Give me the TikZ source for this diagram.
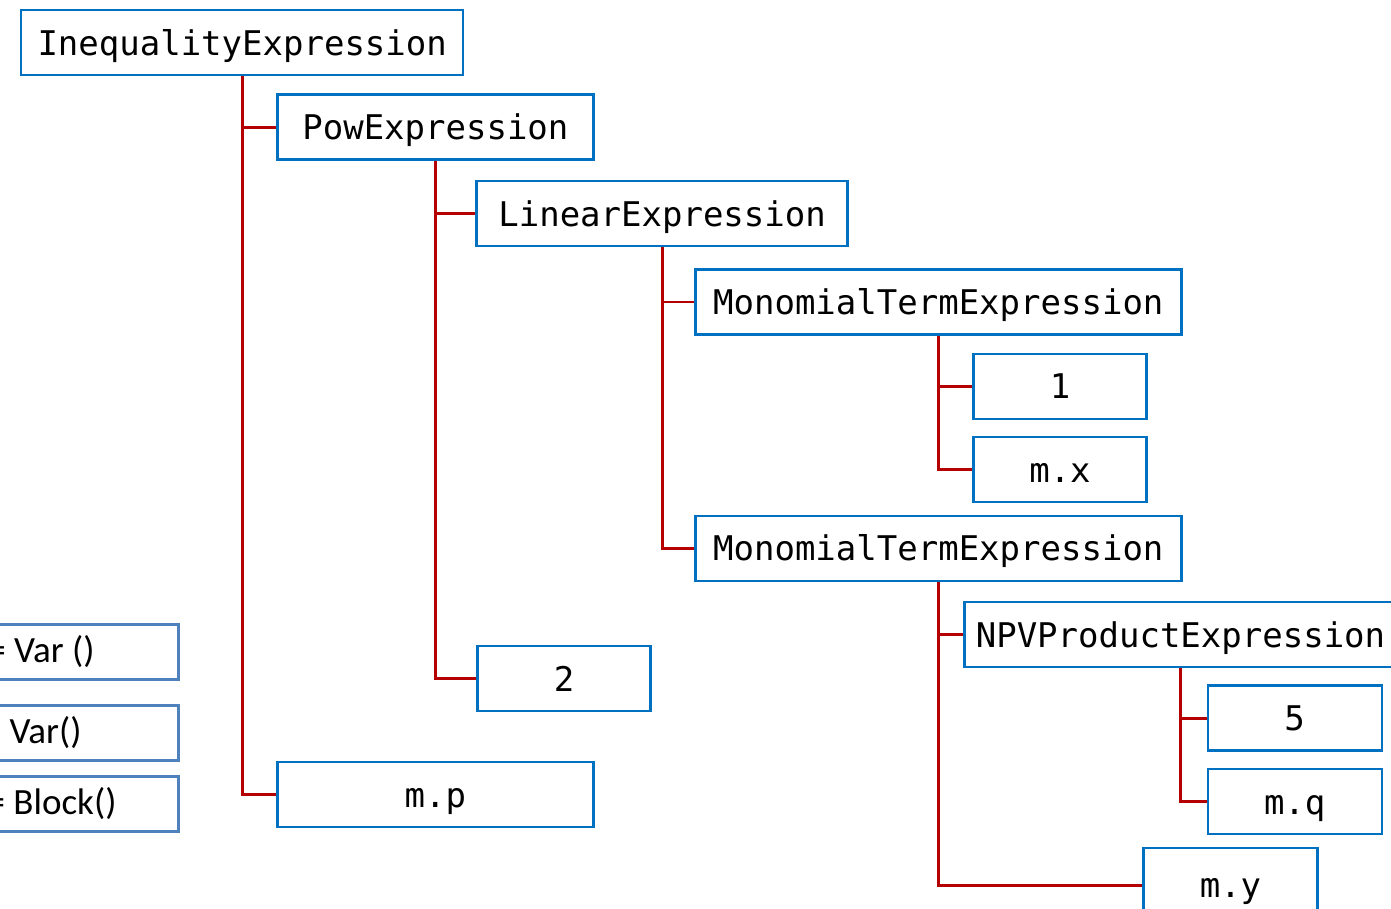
\documentclass[tikz,border=0pt]{standalone}
\usepackage{fontspec}
\setmonofont{DejaVu Sans Mono}
\setsansfont{Carlito}
\usetikzlibrary{positioning}
\definecolor{boxblue}{RGB}{0,112,192}
\definecolor{linkred}{RGB}{180,0,0}
\definecolor{oldblue}{RGB}{79,129,189}
\tikzset{
    expr/.style={rectangle, draw=boxblue, line width=2.4pt, fill=white, minimum height=65pt, inner sep=0pt, font=\ttfamily\fontsize{34}{40}\selectfont, text height=25pt, text depth=0pt},
    link/.style={draw=linkred, line width=2.8pt},
    oldbox/.style={rectangle, draw=oldblue, line width=3pt, minimum height=55pt, inner ysep=0pt, font=\sffamily\fontsize{37}{44}\selectfont, anchor=east}
}

\begin{document}
\begin{tikzpicture}[x=1pt, y=-1pt]
    \useasboundingbox (0,0) rectangle (1391,908);
    \clip (0,0) rectangle (1391,908);

    % 1. ROOT AND FIRST LEVEL
    \node[expr, minimum width=442pt, anchor=north west] (ineq) at (20,9) {InequalityExpression};
    \node[expr, minimum width=316pt] (pow) [below right=17pt and 34pt of ineq.south] {PowExpression};
    \node[expr, minimum width=316pt] (mp) [below=600pt of pow] {m.p};

    % 2. POW EXPRESSION CHILDREN
    \node[expr, minimum width=371pt] (lin) [below right=19pt and 40pt of pow.south] {LinearExpression};
    \node[expr, minimum width=173pt] (two) [below right=484pt and 41pt of pow.south] {2};

    % 3. LINEAR EXPRESSION CHILDREN
    \node[expr, minimum width=486pt] (monoA) [below right=21pt and 32pt of lin.south] {MonomialTermExpression};
    \node[expr, minimum width=486pt] (monoB) [below=179pt of monoA] {MonomialTermExpression};

    % 4. FIRST MONOMIAL
    \node[expr, minimum width=173pt] (one) [below right=17pt and 34pt of monoA.south] {1};
    \node[expr, minimum width=173pt] (mx) [below=16pt of one] {m.x};

    % 5. SECOND MONOMIAL (NPV product and m.y)
    \node[expr, minimum width=432pt] (npv) [below right=19pt and 25pt of monoB.south] {NPVProductExpression};
    \node[expr, minimum width=174pt] (five) [below right=16pt and 26pt of npv.south] {5};
    \node[expr, minimum width=174pt] (mq) [below=16pt of five] {m.q};
    \node[expr, minimum width=174pt, minimum height=74pt] (my) [below right=265pt and 204pt of monoB.south] {m.y};

    % 6. RED ELBOW CONNECTORS
    \draw[link] (ineq.south) |- (pow.west);
    \draw[link] (ineq.south) |- (mp.west);
    \draw[link] (pow.south) |- (lin.west);
    \draw[link] (pow.south) |- (two.west);
    \draw[link] (lin.south) |- (monoA.west);
    \draw[link] (lin.south) |- (monoB.west);
    \draw[link] (monoA.south) |- (one.west);
    \draw[link] (monoA.south) |- (mx.west);
    \draw[link] (monoB.south) |- (npv.west);
    \draw[link] (monoB.south) |- (my.west);
    \draw[link] (npv.south) |- (five.west);
    \draw[link] (npv.south) |- (mq.west);

    % 7. BOXES CUT AT THE LEFT EDGE
    \node[oldbox, inner xsep=84pt] (varA) at (180,652) {= Var ()};
    \node[oldbox, inner xsep=97pt] (varB) at (180,732.5) {Var()};
    \node[oldbox, inner xsep=62pt] (blk) at (180,804) {= Block()};
\end{tikzpicture}
\end{document}
